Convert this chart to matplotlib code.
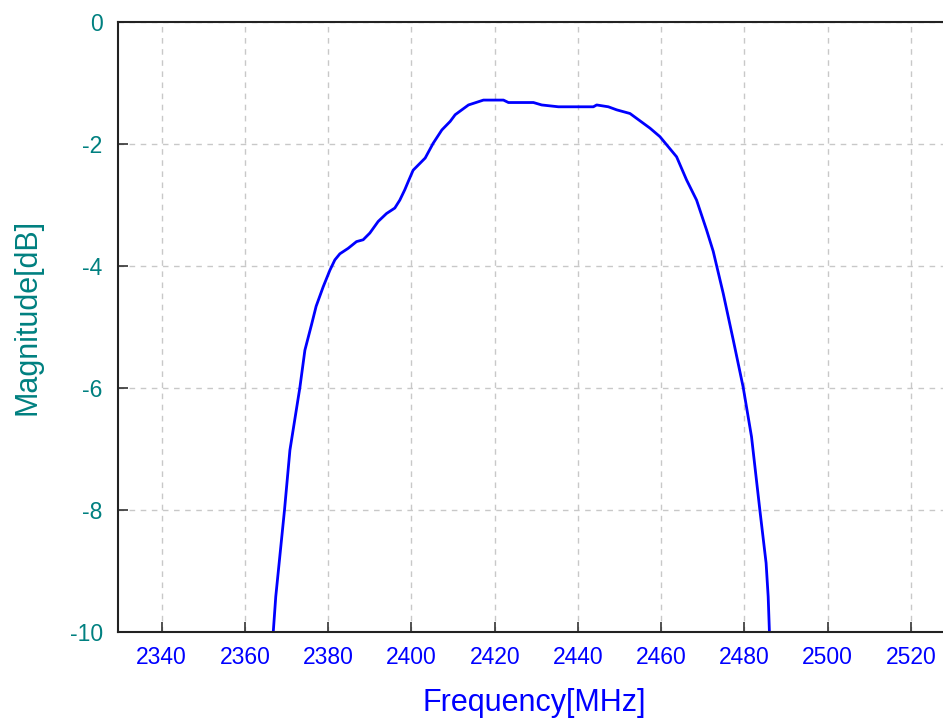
import matplotlib
matplotlib.use("Agg")
import matplotlib.pyplot as plt

# Frequency response
freq_mhz = [2366.8, 2367.4, 2369.5, 2370.8, 2373.2, 2374.4, 2376.0, 2377.1,
            2378.8, 2380.4, 2381.6, 2382.8, 2384.8, 2386.8, 2388.4, 2390.0,
            2392.0, 2394.0, 2396.0, 2397.2, 2398.4, 2399.2, 2400.4, 2403.3,
            2405.2, 2407.3, 2409.3, 2410.5, 2413.7, 2417.3, 2422.1, 2423.3,
            2429.3, 2431.3, 2435.3, 2443.7, 2444.5, 2447.3, 2449.3, 2452.5,
            2455.7, 2457.3, 2459.7, 2463.7, 2466.1, 2468.5, 2470.9, 2472.5,
            2474.9, 2477.3, 2479.7, 2481.7, 2483.7, 2485.2, 2485.7, 2486.0]
magnitude_db = [-10.0, -9.42, -8.0, -7.02, -5.99, -5.38, -4.96, -4.66,
                -4.34, -4.07, -3.90, -3.80, -3.71, -3.60, -3.57, -3.46,
                -3.27, -3.14, -3.05, -2.92, -2.75, -2.62, -2.43, -2.23,
                -1.99, -1.77, -1.63, -1.52, -1.36, -1.28, -1.28, -1.32,
                -1.32, -1.36, -1.39, -1.39, -1.36, -1.39, -1.44, -1.50,
                -1.66, -1.74, -1.88, -2.21, -2.59, -2.92, -3.41, -3.76,
                -4.45, -5.21, -5.99, -6.80, -8.0, -8.87, -9.42, -10.0]

x_ticks = [2340, 2360, 2380, 2400, 2420, 2440, 2460, 2480, 2500, 2520]
y_ticks = [0, -2, -4, -6, -8, -10]

teal = '#008080'
blue = '#0000ff'

plt.rcParams['font.family'] = ['Liberation Sans', 'DejaVu Sans']

fig = plt.figure(figsize=(9.43, 7.2), dpi=100)
ax = fig.add_axes([118 / 943, 88 / 720, 825 / 943, 610 / 720])

ax.plot(freq_mhz, magnitude_db, color=blue, linewidth=2, solid_joinstyle='round')

ax.set_xlim(2329.5, 2527.7)
ax.set_ylim(-10, 0)
ax.set_xticks(x_ticks)
ax.set_yticks(y_ticks)
ax.set_yticklabels([str(v) for v in y_ticks])

ax.grid(True, color='#c8c8c8', linestyle=(0, (4, 4)), linewidth=1)
ax.tick_params(axis='x', direction='in', length=7, width=1.2, colors='#333333',
               labelcolor=blue, labelsize=16.5, pad=10, top=False)
ax.tick_params(axis='y', direction='in', length=7, width=1.2, colors='#333333',
               labelcolor=teal, labelsize=16.5, pad=11, right=False)

for side in ['left', 'top', 'bottom']:
    ax.spines[side].set_color('#222222')
    ax.spines[side].set_linewidth(1.5)
ax.spines['right'].set_visible(False)

ax.set_xlabel('Frequency[MHz]', color=blue, fontsize=22)
ax.set_ylabel('Magnitude[dB]', color=teal, fontsize=22)
ax.xaxis.set_label_coords(416 / 825, -56 / 610)
ax.yaxis.set_label_coords(-75 / 825, 0.517)

fig.savefig('out.png', dpi=100)
